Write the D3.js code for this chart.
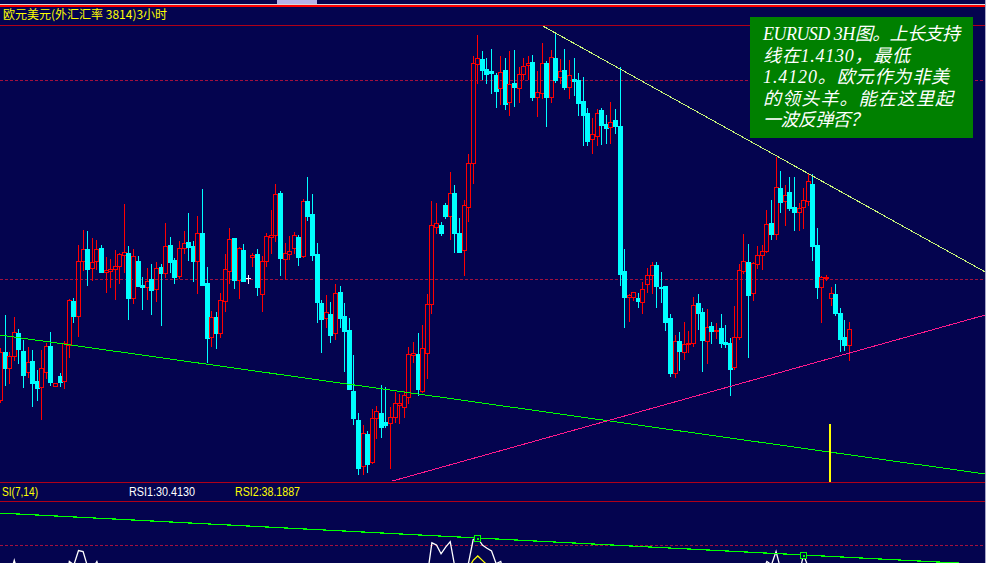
<!DOCTYPE html>
<html><head><meta charset="utf-8">
<script src="https://cdn.jsdelivr.net/npm/d3@7"></script>
<style>html,body{margin:0;padding:0;background:#04044f;overflow:hidden}</style>
</head><body><svg id="c" width="986" height="563"></svg>
<script>
// ---------------- DATA (EURUSD 3H) ----------------
const opens = [1.4075,1.4123,1.4107,1.4119,1.4142,1.4124,1.4103,1.4114,1.4094,1.4088,
1.4103,1.4129,1.4089,1.4099,1.4094,1.4130,1.4174,1.4159,1.4214,1.4226,
1.4207,1.4214,1.4227,1.4203,1.4204,1.4206,1.4209,1.4220,1.4222,1.4177,
1.4214,1.4190,1.4188,1.4196,1.4186,1.4208,1.4202,1.4230,1.4215,1.4199,
1.4227,1.4233,1.4229,1.4214,1.4242,1.4192,1.4138,1.4158,1.4142,1.4174,
1.4204,1.4237,1.4195,1.4225,1.4197,1.4218,1.4221,1.4181,1.4214,1.4238,
1.4240,1.4282,1.4216,1.4221,1.4227,1.4238,1.4219,1.4274,1.4261,1.4221,
1.4172,1.4157,1.4161,1.4142,1.4183,1.4159,1.4145,1.4084,1.4055,1.4009,
1.4041,1.4013,1.4057,1.4062,1.4053,1.4052,1.4058,1.4070,1.4068,1.4078,
1.4120,1.4121,1.4084,1.4122,1.4171,1.4248,1.4250,1.4270,1.4259,1.4282,
1.4242,1.4225,1.4268,1.4312,1.4411,1.4416,1.4406,1.4404,1.4400,1.4387,
1.4405,1.4373,1.4392,1.4387,1.4401,1.4410,1.4413,1.4378,1.4382,1.4412,
1.4378,1.4417,1.4398,1.4405,1.4388,1.4396,1.4395,1.4374,1.4362,1.4336,
1.4339,1.4365,1.4351,1.4348,1.4355,1.4349,1.4204,1.4178,1.4178,1.4177,
1.4173,1.4191,1.4200,1.4210,1.4188,1.4189,1.4157,1.4102,1.4134,1.4123,
1.4131,1.4132,1.4172,1.4163,1.4134,1.4149,1.4144,1.4147,1.4133,1.4132,
1.4108,1.4138,1.4204,1.4213,1.4182,1.4211,1.4220,1.4224,1.4252,1.4241,
1.4287,1.4274,1.4283,1.4268,1.4263,1.4268,1.4274,1.4291,1.4230,1.4188,
1.4197,1.4177,1.4181,1.4162,1.4138,1.4130];
const highs = [1.4127,1.4160,1.4123,1.4158,1.4146,1.4135,1.4128,1.4125,1.4105,1.4125,
1.4132,1.4143,1.4092,1.4102,1.4134,1.4176,1.4177,1.4230,1.4245,1.4244,
1.4237,1.4235,1.4230,1.4218,1.4216,1.4225,1.4222,1.4271,1.4229,1.4226,
1.4219,1.4198,1.4207,1.4211,1.4213,1.4211,1.4252,1.4238,1.4217,1.4234,
1.4244,1.4262,1.4234,1.4259,1.4286,1.4208,1.4164,1.4163,1.4182,1.4221,
1.4247,1.4237,1.4228,1.4231,1.4200,1.4222,1.4226,1.4219,1.4242,1.4265,
1.4291,1.4284,1.4232,1.4239,1.4243,1.4240,1.4276,1.4298,1.4281,1.4232,
1.4175,1.4180,1.4173,1.4191,1.4189,1.4172,1.4157,1.4120,1.4062,1.4050,
1.4044,1.4066,1.4069,1.4090,1.4088,1.4068,1.4083,1.4081,1.4084,1.4128,
1.4133,1.4142,1.4150,1.4181,1.4274,1.4272,1.4253,1.4272,1.4303,1.4290,
1.4257,1.4275,1.4321,1.4419,1.4440,1.4424,1.4417,1.4426,1.4402,1.4419,
1.4417,1.4424,1.4425,1.4408,1.4417,1.4419,1.4420,1.4404,1.4432,1.4414,
1.4425,1.4442,1.4416,1.4426,1.4415,1.4417,1.4402,1.4398,1.4367,1.4357,
1.4366,1.4367,1.4360,1.4373,1.4366,1.4408,1.4226,1.4181,1.4183,1.4182,
1.4193,1.4207,1.4213,1.4213,1.4203,1.4189,1.4161,1.4140,1.4143,1.4153,
1.4144,1.4178,1.4181,1.4167,1.4166,1.4153,1.4152,1.4161,1.4150,1.4137,
1.4169,1.4211,1.4241,1.4231,1.4213,1.4229,1.4230,1.4265,1.4275,1.4318,
1.4304,1.4290,1.4298,1.4298,1.4272,1.4287,1.4302,1.4301,1.4247,1.4199,
1.4200,1.4188,1.4191,1.4167,1.4155,1.4153];
const lows = [1.4073,1.4090,1.4092,1.4115,1.4112,1.4088,1.4098,1.4069,1.4075,1.4056,
1.4097,1.4090,1.4089,1.4089,1.4087,1.4118,1.4153,1.4139,1.4205,1.4190,
1.4195,1.4206,1.4203,1.4183,1.4188,1.4176,1.4192,1.4203,1.4156,1.4172,
1.4189,1.4166,1.4176,1.4161,1.4174,1.4150,1.4198,1.4203,1.4192,1.4197,
1.4222,1.4215,1.4194,1.4182,1.4190,1.4113,1.4129,1.4127,1.4138,1.4164,
1.4192,1.4187,1.4177,1.4194,1.4192,1.4209,1.4180,1.4164,1.4209,1.4222,
1.4234,1.4200,1.4196,1.4216,1.4222,1.4210,1.4218,1.4255,1.4215,1.4153,
1.4123,1.4148,1.4133,1.4136,1.4148,1.4104,1.4086,1.4051,1.4001,1.4001,
1.4003,1.4012,1.4037,1.4038,1.4048,1.4007,1.4053,1.4052,1.4058,1.4072,
1.4113,1.4080,1.4083,1.4097,1.4162,1.4242,1.4240,1.4257,1.4236,1.4223,
1.4223,1.4200,1.4254,1.4292,1.4392,1.4396,1.4392,1.4382,1.4368,1.4371,
1.4366,1.4360,1.4369,1.4373,1.4396,1.4396,1.4375,1.4359,1.4377,1.4349,
1.4373,1.4393,1.4392,1.4386,1.4377,1.4380,1.4360,1.4330,1.4330,1.4322,
1.4330,1.4331,1.4332,1.4332,1.4342,1.4190,1.4148,1.4154,1.4175,1.4168,
1.4162,1.4183,1.4182,1.4168,1.4173,1.4145,1.4099,1.4098,1.4105,1.4116,
1.4123,1.4129,1.4146,1.4104,1.4112,1.4132,1.4137,1.4128,1.4128,1.4080,
1.4106,1.4136,1.4202,1.4118,1.4175,1.4207,1.4206,1.4223,1.4236,1.4236,
1.4263,1.4250,1.4265,1.4245,1.4245,1.4247,1.4270,1.4215,1.4177,1.4153,
1.4195,1.4170,1.4160,1.4124,1.4125,1.4115];
const closes = [1.4123,1.4107,1.4119,1.4143,1.4126,1.4100,1.4113,1.4092,1.4087,1.4107,
1.4129,1.4093,1.4092,1.4093,1.4132,1.4175,1.4159,1.4214,1.4226,1.4206,
1.4213,1.4226,1.4203,1.4205,1.4206,1.4209,1.4221,1.4223,1.4177,1.4219,
1.4189,1.4188,1.4194,1.4185,1.4207,1.4202,1.4229,1.4213,1.4198,1.4227,
1.4232,1.4228,1.4214,1.4242,1.4190,1.4137,1.4158,1.4142,1.4175,1.4206,
1.4236,1.4195,1.4227,1.4194,1.4197,1.4220,1.4188,1.4214,1.4239,1.4240,
1.4281,1.4217,1.4222,1.4224,1.4240,1.4218,1.4274,1.4259,1.4220,1.4173,
1.4156,1.4163,1.4140,1.4182,1.4157,1.4144,1.4086,1.4057,1.4007,1.4042,
1.4011,1.4057,1.4064,1.4048,1.4050,1.4058,1.4072,1.4072,1.4080,1.4121,
1.4122,1.4086,1.4127,1.4171,1.4250,1.4252,1.4242,1.4259,1.4282,1.4242,
1.4223,1.4270,1.4312,1.4412,1.4417,1.4405,1.4401,1.4402,1.4384,1.4403,
1.4371,1.4391,1.4388,1.4401,1.4409,1.4412,1.4378,1.4383,1.4412,1.4378,
1.4418,1.4395,1.4404,1.4388,1.4400,1.4394,1.4372,1.4360,1.4334,1.4341,
1.4362,1.4350,1.4347,1.4353,1.4349,1.4201,1.4178,1.4180,1.4183,1.4174,
1.4186,1.4200,1.4210,1.4189,1.4187,1.4153,1.4102,1.4134,1.4124,1.4131,
1.4132,1.4170,1.4162,1.4135,1.4148,1.4144,1.4145,1.4132,1.4131,1.4106,
1.4138,1.4205,1.4214,1.4180,1.4212,1.4220,1.4224,1.4251,1.4241,1.4288,
1.4273,1.4280,1.4267,1.4263,1.4267,1.4275,1.4294,1.4229,1.4188,1.4198,
1.4198,1.4182,1.4162,1.4136,1.4130,1.4146];

// price reference levels (dashed) and RSI level
const priceLevels = [1.4395, 1.4196];
const rsiLevels = [80];

// hand-drawn trend lines: [candle index, price]
const resistanceLine = [[117.5, 1.4451], [214.7, 1.4203]];
const supportLine    = [[0, 1.4140], [214.7, 1.4001]];
const risingLine     = [[85.5, 1.3994], [214.7, 1.4160]];
const markerLine     = [180.6, 1.4051];   // yellow vertical marker (top price)

// RSI(7,14) visible parts: [candle index, value]
const rsi1 = [[2,66],[3,73],[4,66],[14,60],[15,72.5],[16,71],[17,77.5],[18,77],[19,70],[20,69],[21,72.5],[22,66],
  [92,62],[93,66],[94,81],[95,80],[96,76],[97,79],[98,81.5],[99,70],[100,64],[101,68],[102,72],[103,82.5],[104,83.2],
  [105,80],[106,78.5],[107,77.3],[108,71.5],[109,72.5],[110,66],
  [166,68],[167,72.5],[168,71],[169,77],[170,69],[171,68],[172,66],[173,64],[174,67],[175,75.5],[176,70],[177,58]];
const rsi2 = [[101,66],[102,69.5],[103,73],[104,75],[105,73],[106,71],[107,70],[108,66]];
const rsiTrend = [[0, 94.5], [215, 71.1]];
const rsiMarks = [[104, 83.2], [175, 75.5]];

const headerText = "欧元美元(外汇汇率 3814)3小时";
const rsiLabels = [["SI(7,14)", "#ffff00"], ["RSI1:30.4130", "#ffffff"], ["RSI2:38.1887", "#ffff00"]];
const noteLines = ["EURUSD 3H图。上长支持", "线在1.4130，最低", "1.4120。欧元作为非美", "的领头羊。能在这里起", "一波反弹否？"];

// ---------------- DRAW ----------------
const W = 986, H = 563;
const BG = "#04044f";
const svg = d3.select("#c");
svg.append("rect").attr("width", W).attr("height", H).attr("fill", BG);

// top strip (toolbar remnants)
const strip = svg.append("g").attr("shape-rendering", "crispEdges");
strip.append("rect").attr("x", 277).attr("y", 0).attr("width", 40).attr("height", 4).attr("fill", "#b4b4e6");
strip.append("rect").attr("x", 0).attr("y", 4).attr("width", W).attr("height", 1).attr("fill", "#d8d8d8");
strip.append("rect").attr("x", 0).attr("y", 5).attr("width", W).attr("height", 2).attr("fill", "#ff0000");

svg.append("text").attr("x", 3).attr("y", 18.5)
  .attr("font-family", "'Noto Sans CJK SC', sans-serif").attr("font-size", 12)
  .attr("fill", "#ffff00").text(headerText);

const panelTop = 25, panelBot = 482, rsiHeadBot = 501;
const x = d3.scaleLinear().domain([0, 185]).range([0, 849]);
const y = d3.scaleLinear().domain([1.3912, 1.4475]).range([563, 0]);
const ry = d3.scaleLinear().domain([0, 100]).range([721, 501]);

// frame lines
const frame = svg.append("g").attr("shape-rendering", "crispEdges");
[panelTop, panelBot, rsiHeadBot].forEach(v => {
  frame.append("line").attr("x1", 0).attr("x2", W).attr("y1", v + 0.5).attr("y2", v + 0.5)
    .attr("stroke", "#b00018").attr("stroke-width", 1);
});
priceLevels.forEach(p => {
  frame.append("line").attr("x1", 0).attr("x2", W)
    .attr("y1", Math.round(y(p)) + 0.5).attr("y2", Math.round(y(p)) + 0.5)
    .attr("stroke", "#a3103e").attr("stroke-dasharray", "3,2");
});
rsiLevels.forEach(v => {
  frame.append("line").attr("x1", 0).attr("x2", W)
    .attr("y1", Math.round(ry(v)) + 0.5).attr("y2", Math.round(ry(v)) + 0.5)
    .attr("stroke", "#a3103e").attr("stroke-dasharray", "3,2");
});

svg.append("clipPath").attr("id", "main").append("rect")
  .attr("x", 0).attr("y", panelTop + 1).attr("width", W).attr("height", panelBot - panelTop - 1);
svg.append("clipPath").attr("id", "rsi").append("rect")
  .attr("x", 0).attr("y", rsiHeadBot + 1).attr("width", W).attr("height", H - rsiHeadBot);

const main = svg.append("g").attr("clip-path", "url(#main)").attr("shape-rendering", "crispEdges");
const candles = opens.map((o, i) => ({ i, o, h: highs[i], l: lows[i], c: closes[i] }));
candles.forEach(d => {
  const n = Math.round(x(d.i));
  const cx = n + 0.5;
  const yh = Math.round(y(d.h)), yl = Math.round(y(d.l));
  const t = Math.round(y(Math.max(d.o, d.c))), b = Math.round(y(Math.min(d.o, d.c)));
  if (d.c > d.o) {
    const col = "#ff0000";
    if (yh < t) main.append("line").attr("x1", cx).attr("x2", cx).attr("y1", yh).attr("y2", t).attr("stroke", col);
    if (yl > b) main.append("line").attr("x1", cx).attr("x2", cx).attr("y1", b + 1).attr("y2", yl + 1).attr("stroke", col);
    main.append("rect").attr("x", n - 1.5).attr("y", t + 0.5).attr("width", 4).attr("height", Math.max(b - t, 0.01))
      .attr("fill", "none").attr("stroke", col).attr("stroke-width", 1);
  } else if (d.c < d.o) {
    const col = "#00ffff";
    main.append("line").attr("x1", cx).attr("x2", cx).attr("y1", yh).attr("y2", yl + 1).attr("stroke", col);
    main.append("rect").attr("x", n - 2).attr("y", t).attr("width", 5).attr("height", b - t + 1).attr("fill", col);
  } else {
    const col = "#ffffff";
    main.append("line").attr("x1", cx).attr("x2", cx).attr("y1", yh).attr("y2", yl + 1).attr("stroke", col);
    main.append("rect").attr("x", n - 2).attr("y", t).attr("width", 5).attr("height", 1).attr("fill", col);
  }
});

// trend lines
const pl = d3.line().x(d => x(d[0])).y(d => y(d[1]));
main.append("path").attr("d", pl(supportLine)).attr("stroke", "#00ff00").attr("fill", "none").attr("stroke-width", 1);
main.append("path").attr("d", pl(risingLine)).attr("stroke", "#ff1a8c").attr("fill", "none").attr("stroke-width", 1);
main.append("path").attr("d", pl(resistanceLine)).attr("stroke", "#c8f57a").attr("fill", "none").attr("stroke-width", 1);
main.append("rect").attr("x", Math.round(x(markerLine[0]))).attr("y", Math.round(y(markerLine[1])))
  .attr("width", 2).attr("height", panelBot - Math.round(y(markerLine[1]))).attr("fill", "#ffff00");

// annotation box (one text block, one line per tspan)
svg.append("rect").attr("x", 750).attr("y", 17).attr("width", 223).attr("height", 121).attr("fill", "#008000");
const noteWidths = [197, 147, 186, 190, 105];
const note = svg.append("text")
  .attr("font-family", "'Liberation Serif', 'Noto Sans CJK SC', serif").attr("font-size", 18)
  .attr("font-style", "italic").attr("fill", "#ffffff");
note.selectAll("tspan").data(noteLines).join("tspan")
  .attr("x", 763).attr("y", (d, i) => 40 + i * 21.6)
  .attr("textLength", (d, i) => noteWidths[i]).attr("lengthAdjust", "spacing")
  .text(d => d);

// RSI header
const rsiX = [[2, 36], [129, 66], [235, 65]];
svg.append("g").selectAll("text").data(rsiLabels).join("text")
  .attr("x", (d, i) => rsiX[i][0]).attr("y", 495.5)
  .attr("textLength", (d, i) => rsiX[i][1]).attr("lengthAdjust", "spacingAndGlyphs")
  .attr("font-family", "'Liberation Sans', Arial, sans-serif").attr("font-size", 12.5)
  .attr("fill", d => d[1]).text(d => d[0]);

// RSI panel
const rsiG = svg.append("g").attr("clip-path", "url(#rsi)");
const rl = d3.line().x(d => x(d[0]) + 0.5).y(d => ry(d[1]));
rsiG.append("path").attr("d", rl(rsi2)).attr("stroke", "#ffff00").attr("fill", "none").attr("stroke-width", 1.3);
rsiG.append("path").attr("d", rl(rsi1)).attr("stroke", "#ffffff").attr("fill", "none").attr("stroke-width", 1.3);
rsiG.append("path").attr("d", rl(rsiTrend)).attr("stroke", "#00ff00").attr("fill", "none")
  .attr("stroke-width", 1.2).attr("shape-rendering", "crispEdges");
rsiMarks.forEach(m => {
  const mx = Math.round(x(m[0])), my = Math.round(ry(m[1]));
  rsiG.append("rect").attr("x", mx - 3 + 0.5).attr("y", my - 3 + 0.5).attr("width", 6).attr("height", 6)
    .attr("fill", BG).attr("stroke", "#00ff00").attr("shape-rendering", "crispEdges");
  rsiG.append("rect").attr("x", mx).attr("y", my).attr("width", 2).attr("height", 2).attr("fill", "#00ff00");
});

// right border
svg.append("rect").attr("x", 985).attr("y", 0).attr("width", 1).attr("height", H).attr("fill", "#a8a8c8");
</script></body></html>
